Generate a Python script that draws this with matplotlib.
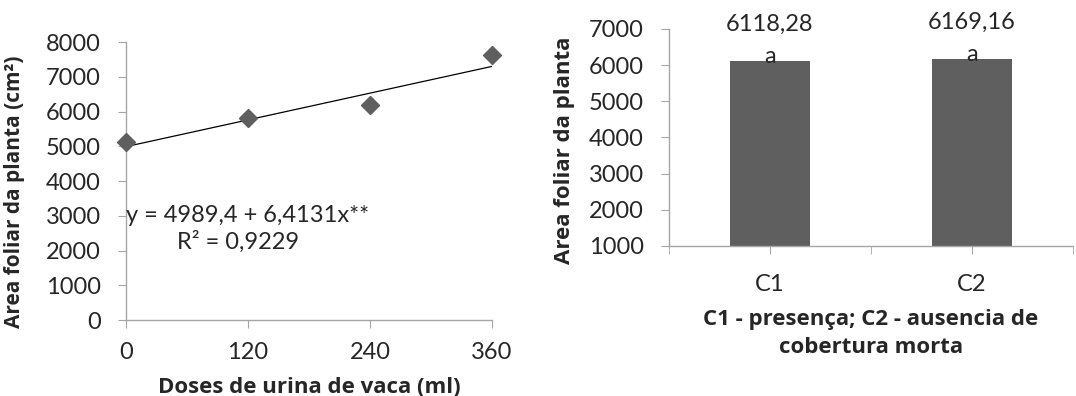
import matplotlib
matplotlib.use('Agg')
import numpy as np
import matplotlib.pyplot as plt

# left chart data: doses of cow urine vs leaf area
doses = [0, 120, 240, 360]
area = [5120, 5810, 6180, 7620]
coef_a, coef_b = 4989.4, 6.4131

# right chart data
cats = ['C1', 'C2']
bar_vals = [6118.28, 6169.16]
bar_labels = ['6118,28\na', '6169,16\na']

txt = '#262626'
gray = '#5f5f5f'
axcol = '#a6a6a6'
tick_font = 'Lato'
lab_font = 'Open Sans'
fs = 17
lfs = 16

fig = plt.figure(figsize=(10.76, 3.96), dpi=100)

# ---- left: scatter + linear fit
ax1 = fig.add_axes([0.1171, 0.1919, 0.3401, 0.702])
ax1.plot(doses, area, linestyle='none', marker='D', ms=9, color=gray, zorder=3, clip_on=False)
xf = np.array([doses[0], doses[-1]])
ax1.plot(xf, coef_a + coef_b * xf, color='black', lw=0.9, zorder=2)
ax1.set_xlim(0, 360)
ax1.set_ylim(0, 8000)
ax1.set_xticks(doses)
ax1.set_yticks(range(0, 8001, 1000))
ax1.text(-0.03, 3000, 'y = 4989,4 + 6,4131x**', fontsize=fs, family=tick_font, color=txt,
         va='center', ha='left')
ax1.text(50, 2250, 'R² = 0,9229', fontsize=fs, family=tick_font, color=txt, va='center', ha='left')
ax1.set_ylabel('Area foliar da planta (cm²)', fontsize=15, family=lab_font, fontweight='bold',
               color=txt)
ax1.yaxis.set_label_coords(-0.276, 0.46)
ax1.set_xlabel('Doses de urina de vaca (ml)', fontsize=lfs, family=lab_font, fontweight='bold',
               color=txt)
ax1.xaxis.set_label_coords(0.5, -0.205)

# ---- right: bar chart
ax2 = fig.add_axes([0.6217, 0.3788, 0.3755, 0.548])
pos = np.arange(len(cats))
ax2.bar(pos, bar_vals, width=0.4, color=gray, zorder=2)
for x, v, s in zip(pos, bar_vals, bar_labels):
    ax2.annotate(s, (x, v), xytext=(0, -6), textcoords='offset pixels', ha='center', va='bottom',
                 fontsize=fs, family=tick_font, color=txt, linespacing=1.65, annotation_clip=False)
ax2.set_xlim(-0.5, 1.5)
ax2.set_ylim(1000, 7000)
ax2.set_xticks(pos)
ax2.set_xticklabels(cats)
ax2.set_xticks([-0.5, 0.5, 1.5], minor=True)
ax2.tick_params(axis='x', which='major', length=0)
ax2.tick_params(axis='x', which='minor', length=6, color=axcol, direction='out')
ax2.set_yticks(range(1000, 7001, 1000))
ax2.set_ylabel('Area foliar da planta', fontsize=lfs, family=lab_font, fontweight='bold',
               color=txt)
ax2.yaxis.set_label_coords(-0.233, 0.44)
ax2.set_xlabel('C1 - presença; C2 - ausencia de\ncobertura morta', fontsize=lfs, family=lab_font,
               fontweight='bold', color=txt, linespacing=1.45)
ax2.xaxis.set_label_coords(0.5, -0.29)

for ax in (ax1, ax2):
    for sp in ('top', 'right'):
        ax.spines[sp].set_visible(False)
    for sp in ('left', 'bottom'):
        ax.spines[sp].set_color(axcol)
        ax.spines[sp].set_linewidth(1.0)
    ax.tick_params(axis='both', which='major', length=6, color=axcol, labelsize=fs, labelcolor=txt)
    for t in ax.get_xticklabels() + ax.get_yticklabels():
        t.set_family(tick_font)
ax1.tick_params(axis='x', pad=10)
ax1.tick_params(axis='y', pad=12)
ax2.tick_params(axis='x', which='major', pad=14)
ax2.tick_params(axis='y', pad=12)

fig.savefig('out.png', dpi=100)
